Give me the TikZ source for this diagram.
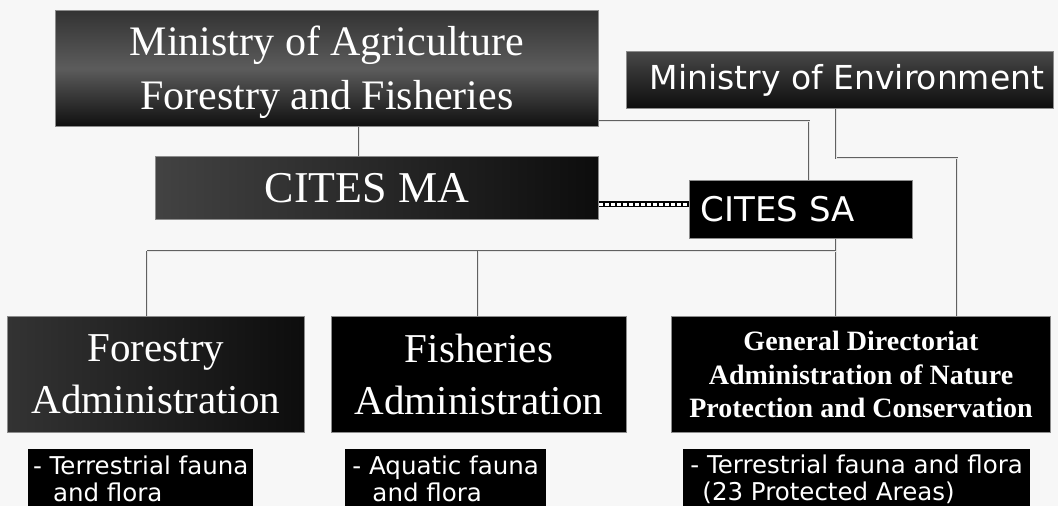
\documentclass[tikz,border=0pt]{standalone}
\usepackage{fontspec}
\setmainfont{Liberation Serif}
\newfontfamily\sansf{DejaVu Sans}
\begin{document}
\begin{tikzpicture}[x=1pt,y=-1pt,
  box/.style={draw=black!45, line width=1pt, inner sep=0pt, anchor=north west,
     text=white, align=center},
  lab/.style={fill=black, inner sep=0pt, anchor=north west, text=white,
     align=left, font=\sansf\fontsize{24.5}{27}\selectfont},
  conn/.style={draw=black!62, double=black!10, double distance=1pt, line width=0.75pt},
]
\useasboundingbox (0,0) rectangle (1058,506);
\clip (0,0) rectangle (1058,506);
\fill[black!3] (0,0) rectangle (1058,506);

% named x / y positions for connectors
\coordinate (j1) at (359,0);
\coordinate (j2) at (809,0);
\coordinate (j3) at (836,0);
\coordinate (j4) at (957,0);
\coordinate (jF) at (147,0);
\coordinate (jFi) at (478,0);
\coordinate (yA) at (0,121);
\coordinate (yB) at (0,158);
\coordinate (yC) at (0,251);
\coordinate (yD) at (0,204);

% boxes
\node[box, minimum width=543, minimum height=116,
      top color=black!80, bottom color=black!94, middle color=black!64] (maff) at (55,10) {};
\node[text=white, align=center, inner sep=0pt, font=\fontsize{42}{54}\selectfont]
  (maffT) at ([yshift=-4pt]maff.center)
  {Ministry of Agriculture\\Forestry and Fisheries};
\node[box, minimum width=427, minimum height=57,
      top color=black!72, bottom color=black!95,
      font=\sansf\fontsize{33}{40}\selectfont] (moe) at (626,51)
  {\hspace*{14pt}Ministry of Environment};
\node[box, minimum width=443, minimum height=63,
      left color=black!74, right color=black!95,
      font=\fontsize{44}{50}\selectfont] (citesma) at (155,156)
  {CITES MA\hspace*{20pt}};
\node[box, minimum width=223, minimum height=58, fill=black, text width=201,
      align=left, inner xsep=11pt,
      font=\sansf\fontsize{34}{40}\selectfont] (citessa) at (689,180)
  {CITES SA};
\node[box, minimum width=297, minimum height=116,
      left color=black!80, right color=black!95,
      font=\fontsize{41}{52}\selectfont] (forestry) at (7,316)
  {Forestry\\Administration};
\node[box, minimum width=295, minimum height=116, fill=black,
      font=\fontsize{41}{52}\selectfont] (fisheries) at (331,316)
  {Fisheries\\Administration};
\node[box, minimum width=379, minimum height=116, fill=black,
      font=\bfseries\fontsize{28}{33.5}\selectfont] (gd) at (671,316)
  {General Directoriat\\Administration of Nature\\Protection and Conservation};

% label boxes
\node[lab, minimum width=225, minimum height=60, inner xsep=3pt] (l1) at (28,449)
  {- Terrestrial fauna\\\hspace*{20pt}and flora};
\node[lab, minimum width=201, minimum height=60, inner xsep=3pt] (l2) at (345,449)
  {- Aquatic fauna\\\hspace*{20pt}and flora};
\node[lab, minimum width=347, minimum height=60, inner xsep=4pt] (l3) at (683,449)
  {- Terrestrial fauna and flora\\\hspace*{12pt}(23 Protected Areas)};

% connectors
\draw[conn] (maff.south -| j1) -- (citesma.north -| j1);
\draw[conn] (maff.east |- yA) -| (citessa.north -| j2);
\draw[conn] (moe.south -| j3) |- (j4 |- yB) -- (gd.north -| j4);
\draw[conn] (citessa.south -| j3) -- (gd.north -| j3);
\draw[conn] (jF |- yC) -- (j3 |- yC);
\draw[conn] (jF |- yC) -- (forestry.north -| jF);
\draw[conn] (jFi |- yC) -- (fisheries.north -| jFi);

% dotted link MA -- SA
\draw[black, line width=6pt] (citesma.east |- yD) -- (citessa.west |- yD);
\draw[white, line width=3pt, dash pattern=on 3.5pt off 2.5pt] (citesma.east |- yD) -- (citessa.west |- yD);
\end{tikzpicture}
\end{document}
